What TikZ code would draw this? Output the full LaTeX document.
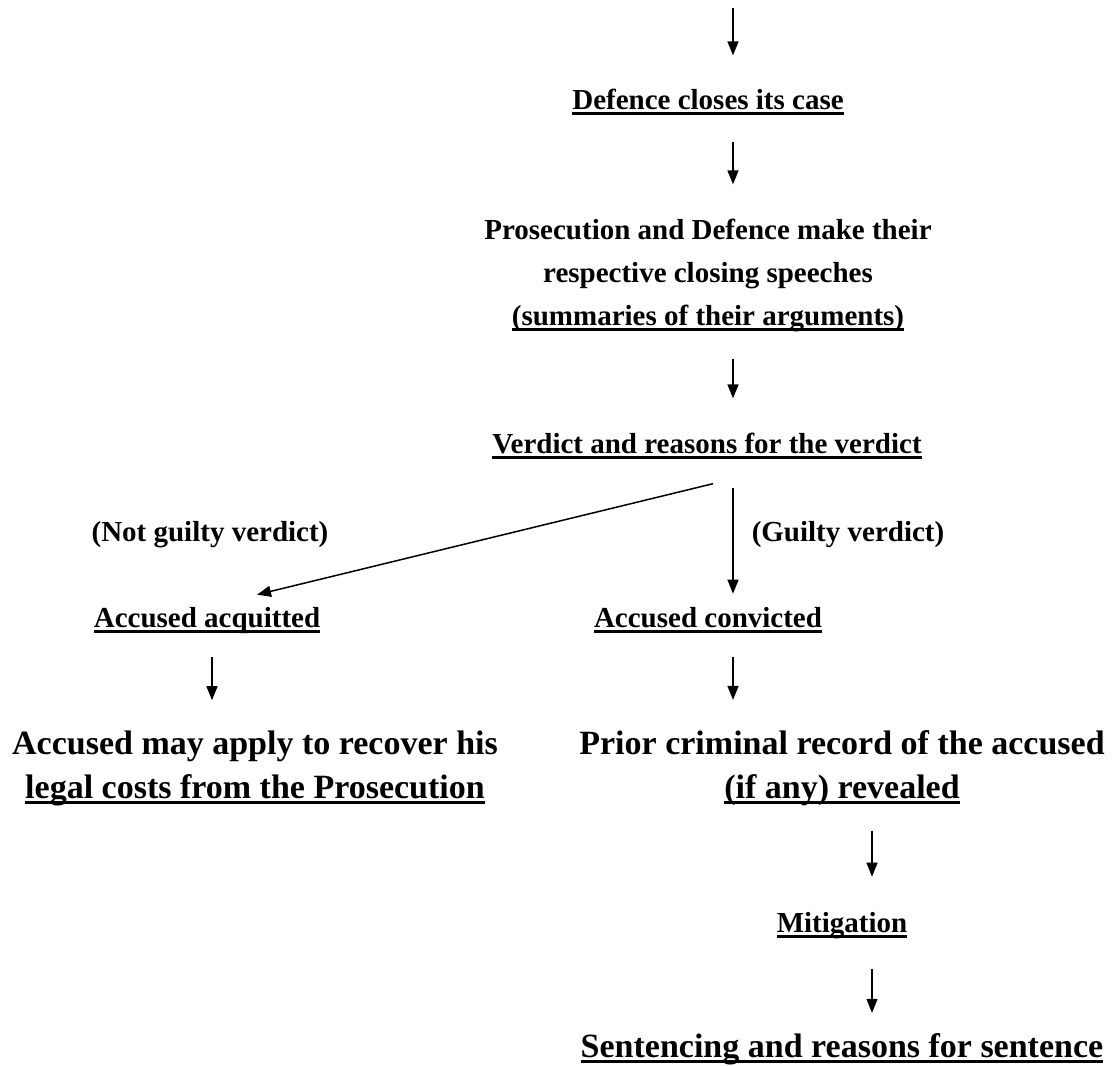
\documentclass[tikz,border=0pt]{standalone}
\usepackage{fontspec}
\setmainfont{Liberation Serif}
\usetikzlibrary{arrows.meta}
\newcommand{\ulbar}[1]{\setbox0\hbox{#1}\rlap{\rule[-5.5pt]{\wd0}{2.6pt}}\box0}
\tikzset{
	txt/.style={font=\fontsize{29}{43}\selectfont\bfseries, align=center, inner sep=0pt, anchor=base},
	bigtxt/.style={font=\fontsize{34}{44}\selectfont\bfseries, align=center, inner sep=0pt, anchor=base},
	arr/.style={-{Triangle[length=14pt,width=11pt]}, line width=1.5pt, shorten <=27pt, shorten >=34pt},
}
\begin{document}
\begin{tikzpicture}[x=1pt, y=-1pt]
	\useasboundingbox (0,0) rectangle (1113,1065);
	\coordinate (top) at (733,8);
	\coordinate (spine) at (733,0);
	\coordinate (spineb) at (872,0);
	% main line
	\node[txt] (defence) at (708,109) {\ulbar{Defence closes its case}};
	\node[txt] (speeches) at (708,325) {Prosecution and Defence make their\\ respective closing speeches\\ \ulbar{(summaries of their arguments)}};
	\node[txt] (verdict) at (707,453) {\ulbar{Verdict and reasons for the verdict}};
	% the two branches
	\node[txt] (notguilty) at (210,541) {(Not guilty verdict)};
	\node[txt] (guilty) at (848,541) {(Guilty verdict)};
	\node[txt] (acquitted) at (207,627) {\ulbar{Accused acquitted}};
	\node[txt] (convicted) at (708,627) {\ulbar{Accused convicted}};
	\node[bigtxt] (costs) at (255,798) {Accused may apply to recover his\\ \ulbar{legal costs from the Prosecution}};
	\node[bigtxt] (record) at (842,798) {Prior criminal record of the accused\\ \ulbar{(if any) revealed}};
	\node[txt] (mitigation) at (842,932) {\ulbar{Mitigation}};
	\node[bigtxt] (sentence) at (842,1057) {\ulbar{Sentencing and reasons for sentence}};
	% arrows
	\draw[arr, shorten <=0pt, shorten >=33pt] (top) -- (defence.north -| top);
	\draw[arr] (defence.south -| spine) -- (speeches.north -| spine);
	\draw[arr] (speeches.south -| spine) -- (verdict.north -| spine);
	\draw[arr, shorten <=0pt, shorten >=0pt] ([xshift=6pt,yshift=-25pt]verdict.south) -- ([xshift=50pt,yshift=12pt]acquitted.north);
	\draw[arr, shorten <=29pt, shorten >=13pt] (verdict.south -| spine) -- (convicted.north -| spine);
	\draw[arr, shorten <=24pt, shorten >=30pt] ([xshift=5pt]acquitted.south) -- ([xshift=5pt]acquitted.south |- costs.north);
	\draw[arr, shorten <=24pt, shorten >=30pt] (convicted.south -| spine) -- (record.north -| spine);
	\draw[arr, shorten <=25pt, shorten >=35pt] (record.south -| spineb) -- (mitigation.north -| spineb);
	\draw[arr, shorten <=30pt, shorten >=20pt] (mitigation.south -| spineb) -- (sentence.north -| spineb);
\end{tikzpicture}
\end{document}
